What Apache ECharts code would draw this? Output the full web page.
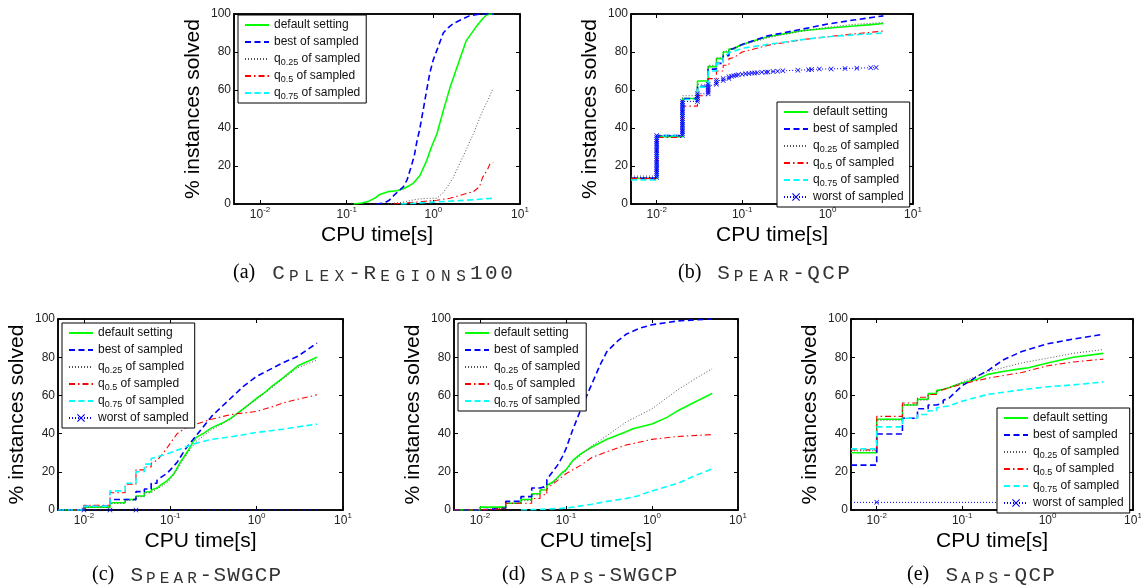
<!DOCTYPE html>
<html><head><meta charset="utf-8">
<script src="https://cdn.jsdelivr.net/npm/echarts@6/dist/echarts.min.js"></script>
<style>html,body{margin:0;padding:0;background:#fff}#c{width:1141px;height:588px}</style>
</head><body><div id="c"></div>
<script>
// ---------------- data ----------------
const seriesNames = ['default setting', 'best of sampled', 'q0.25 of sampled', 'q0.5 of sampled', 'q0.75 of sampled', 'worst of sampled'];
const xTickValues = [0.01, 0.1, 1, 10];
const yTickValues = [0, 20, 40, 60, 80, 100];
const xLabel = 'CPU time[s]';
const yLabel = '% instances solved';
// lower-case letters are set in small capitals
const captionTags = ['(a)', '(b)', '(c)', '(d)', '(e)'];
const captionNames = ['Cplex-Regions100', 'Spear-QCP', 'Spear-SWGCP', 'Saps-SWGCP', 'Saps-QCP'];

// (a) CPLEX-Regions100
const aDefault = [[0.12,0],[0.15,0.5],[0.18,1.5],[0.21,3],[0.24,5],[0.3,6.5],[0.38,7],[0.45,8],[0.52,9.5],[0.59,11],[0.7,15],[0.84,23],[0.95,30],[1.1,37],[1.3,49],[1.55,61],[1.94,74],[2.4,86],[3.2,94],[3.7,97.5],[4.1,99.5],[4.5,100],[5,100]];
const aBest = [[0.22,0],[0.27,0.5],[0.31,2],[0.35,4.5],[0.4,7],[0.45,9],[0.5,13],[0.54,18],[0.6,25],[0.64,32],[0.7,40],[0.76,49],[0.83,59],[0.91,69],[1.0,76],[1.1,81],[1.3,90],[1.5,93],[1.7,95],[2.1,97],[2.6,99],[3.4,100],[5,100]];
const aQ25 = [[0.3,0],[0.45,1],[0.64,2.5],[0.85,3],[1.1,3],[1.3,6],[1.5,10],[1.7,14],[2.2,25],[2.9,37],[3.7,49],[4.3,55],[4.9,61]];
const aQ5 = [[0.35,0],[0.64,1],[1.1,2],[1.55,3],[2.2,5],[2.9,6.5],[3.4,9],[3.7,14],[4.2,18],[4.5,21],[4.9,22]];
const aQ75 = [[0.42,0],[1.0,1],[2.4,2],[4.9,3]];

// (b) SPEAR-QCP
const bDefault = [[0.005,13.5],[0.01,13.5],[0.01,35.4],[0.02,35.4],[0.02,55.5],[0.03,55.5],[0.03,64.7],[0.04,64.7],[0.04,72.3],[0.05,72.3],[0.05,76.5],[0.06,76.5],[0.06,80],[0.07,80],[0.07,81.6],[0.08,81.6],[0.08,82.5],[0.09,83],[0.1,84],[0.15,86.5],[0.2,88],[0.3,89.5],[0.5,91.2],[1,92.5],[2,93.7],[3,94.3],[4.5,95]];
const bBest = [[0.005,13.5],[0.01,13.5],[0.01,36],[0.02,36],[0.02,55.5],[0.03,55.5],[0.03,62],[0.04,62],[0.04,71],[0.05,71],[0.05,74],[0.06,74],[0.06,78],[0.07,78],[0.07,81],[0.08,82],[0.1,84],[0.2,88.5],[0.5,92],[1,94.7],[2,96.8],[4.5,99]];
const bQ25 = [[0.005,14.7],[0.01,14.7],[0.01,36],[0.02,36],[0.02,57],[0.03,57],[0.03,63],[0.04,63],[0.04,73],[0.05,73],[0.05,77],[0.06,77],[0.06,80],[0.07,81],[0.1,83.5],[0.2,87.5],[0.5,91],[1,93],[2,94.5],[4.5,95.5]];
const bQ5 = [[0.005,13.5],[0.01,13.5],[0.01,35],[0.02,35],[0.02,51.5],[0.03,51.5],[0.03,57],[0.04,57],[0.04,66],[0.05,66],[0.05,70],[0.06,70],[0.06,73],[0.07,73],[0.07,76.5],[0.08,77],[0.1,80],[0.2,83.5],[0.5,86.5],[1,88],[2,89.5],[4.5,91]];
const bQ75 = [[0.005,12.6],[0.01,12.6],[0.01,36],[0.02,36],[0.02,55],[0.03,55],[0.03,61.5],[0.04,61.5],[0.04,70],[0.05,70],[0.05,74],[0.06,74],[0.06,77],[0.07,79.5],[0.1,82],[0.2,84],[0.5,86.5],[1,88],[2,89],[4.5,90]];
const bWorst = [[0.005,14],[0.01,14],[0.01,15],[0.01,16],[0.01,17],[0.01,18],[0.01,19],[0.01,20],[0.01,21],[0.01,22],[0.01,23],[0.01,24],[0.01,25],[0.01,26],[0.01,27],[0.01,28],[0.01,29],[0.01,30],[0.01,31],[0.01,32],[0.01,33],[0.01,34],[0.01,35],[0.01,36],[0.02,36],[0.02,37],[0.02,38],[0.02,39],[0.02,40],[0.02,41],[0.02,42],[0.02,43],[0.02,44],[0.02,45],[0.02,46],[0.02,47],[0.02,48],[0.02,49],[0.02,50],[0.02,51],[0.02,52],[0.02,53],[0.02,54],[0.03,54],[0.03,55],[0.03,56],[0.03,57],[0.03,58],[0.04,58],[0.04,59],[0.04,60],[0.04,61],[0.04,62],[0.04,63],[0.05,63],[0.05,64],[0.05,65],[0.06,65],[0.06,66],[0.07,66],[0.07,67],[0.075,67.3],[0.08,67.5],[0.085,67.8],[0.09,68],[0.1,68.3],[0.11,68.5],[0.12,68.7],[0.13,68.9],[0.14,69],[0.15,69.1],[0.17,69.3],[0.19,69.4],[0.2,69.5],[0.23,69.7],[0.26,69.9],[0.3,70.1],[0.45,70.4],[0.6,70.7],[0.65,70.8],[0.8,71],[1.1,71.1],[1.6,71.3],[2.2,71.5],[3.2,71.7],[3.7,71.8]];
const bWorstMarks = 'all';

// (c) SPEAR-SWGCP
const cDefault = [[0.005,0],[0.01,0],[0.01,1.5],[0.02,1.5],[0.02,3.8],[0.03,3.8],[0.03,5.5],[0.04,5.5],[0.04,7.3],[0.05,7.3],[0.05,9.4],[0.06,9.4],[0.06,10.5],[0.07,11.5],[0.08,13.5],[0.09,15],[0.1,17],[0.11,19],[0.12,22],[0.13,25],[0.14,27],[0.16,31],[0.18,35],[0.2,38],[0.25,40.5],[0.3,43],[0.4,45.5],[0.5,48],[0.7,53],[1,58.5],[1.2,61],[1.5,64.7],[2,69],[3,75.5],[4,78],[5,80]];
const cBest = [[0.005,0],[0.01,0],[0.01,2],[0.02,2],[0.02,5.5],[0.04,5.5],[0.04,9.6],[0.05,9.6],[0.05,11],[0.06,11],[0.06,14],[0.07,14],[0.07,15.5],[0.08,17.5],[0.09,19],[0.1,21],[0.12,25],[0.15,32],[0.2,39],[0.3,49],[0.5,58.5],[0.7,64.7],[1,70],[2,77],[3,80.5],[5,87.4]];
const cQ25 = [[0.005,0],[0.01,0],[0.01,1.5],[0.02,1.5],[0.02,3.5],[0.03,3.5],[0.03,5],[0.04,5],[0.04,7],[0.05,7],[0.05,9],[0.06,9],[0.06,10],[0.07,11],[0.08,12.5],[0.09,14],[0.1,16],[0.12,21],[0.14,26],[0.16,30],[0.2,36],[0.3,42],[0.5,47.5],[0.7,53],[1,58],[1.5,64],[2,68.5],[3,74.5],[5,78.5]];
const cQ5 = [[0.005,0],[0.01,0],[0.01,2.5],[0.02,2.5],[0.02,9],[0.03,9],[0.03,13.5],[0.04,13.5],[0.04,21],[0.05,21],[0.05,22.5],[0.06,22.5],[0.06,24.5],[0.07,26],[0.08,29],[0.09,32],[0.1,35],[0.12,40],[0.15,43],[0.2,45],[0.3,47.5],[0.5,50],[1,51.6],[1.5,54],[2,56],[3,58],[5,60.3]];
const cQ75 = [[0.005,0],[0.01,0],[0.01,2],[0.02,2],[0.02,10],[0.03,10],[0.03,14],[0.04,14],[0.04,20],[0.05,20],[0.05,24],[0.06,24],[0.06,27],[0.08,28.5],[0.1,30],[0.15,33],[0.2,35],[0.3,37],[0.5,38.3],[1,40.6],[2,42.3],[5,45]];
const cWorst = [[0.005,0],[0.01,0],[0.02,0],[0.04,0],[5,0]];
const cWorstMarks = [0.01, 0.02, 0.04];

// (d) SAPS-SWGCP
const dDefault = [[0.005,0],[0.01,0],[0.01,1.5],[0.02,1.5],[0.02,3.5],[0.03,3.5],[0.03,5.5],[0.04,5.5],[0.04,8.5],[0.05,8.5],[0.05,10.5],[0.06,10.5],[0.06,13],[0.07,14.5],[0.08,17],[0.09,19.5],[0.1,21],[0.12,26],[0.15,29.5],[0.2,33],[0.3,37],[0.5,41],[0.6,42.5],[1,45],[1.5,48.5],[2,52],[3,56],[5,61]];
const dBest = [[0.005,0],[0.01,0],[0.01,1],[0.02,1],[0.02,4.5],[0.03,4.5],[0.03,7],[0.04,7],[0.04,11.5],[0.05,11.5],[0.05,12.5],[0.06,12.5],[0.06,16],[0.07,20],[0.08,23.5],[0.09,27.5],[0.1,32],[0.12,42],[0.15,53],[0.2,66],[0.25,76],[0.3,83],[0.4,88.5],[0.5,92],[0.7,95],[1,97],[2,99],[5,100]];
const dQ25 = [[0.005,0],[0.01,0],[0.01,1],[0.02,1],[0.02,3.5],[0.03,3.5],[0.03,5],[0.04,5],[0.04,8],[0.05,8],[0.05,10],[0.06,12.5],[0.07,14],[0.08,16.5],[0.1,20.5],[0.12,25],[0.15,29],[0.2,33.5],[0.3,39],[0.5,46],[1,53],[2,63],[3,68],[5,74]];
const dQ5 = [[0.005,0],[0.01,0],[0.01,0.7],[0.02,0.7],[0.02,3.5],[0.04,3.5],[0.04,6],[0.05,6],[0.05,8],[0.06,8],[0.06,11],[0.07,13.5],[0.08,15.5],[0.1,19],[0.15,23.5],[0.2,27.5],[0.3,30.5],[0.5,34],[1,37],[2,38.5],[5,39.5]];
const dQ75 = [[0.03,0],[0.06,0.5],[0.1,1],[0.2,3],[0.3,4.5],[0.5,6],[0.7,7.5],[1,10],[2,14],[3,17.5],[5,21.5]];

// (e) SAPS-QCP
const eDefault = [[0.005,30],[0.01,30],[0.01,47.5],[0.02,47.5],[0.02,55],[0.03,55],[0.03,58],[0.04,58],[0.04,61],[0.05,61],[0.05,62.5],[0.06,63.2],[0.07,64],[0.08,65],[0.1,66.5],[0.15,68.5],[0.2,71],[0.3,72.5],[0.5,74],[0.6,74.5],[1,77],[2,80],[4.5,82]];
const eBest = [[0.005,23.5],[0.01,23.5],[0.01,39.8],[0.02,39.8],[0.02,48],[0.03,48],[0.03,53],[0.04,53],[0.04,55],[0.05,55],[0.05,56],[0.06,56],[0.06,57.5],[0.07,58.5],[0.08,61],[0.1,65],[0.15,70],[0.2,73],[0.3,78.5],[0.5,83],[1,87],[2,89.5],[4.5,92]];
const eQ25 = [[0.005,31],[0.01,31],[0.01,47],[0.02,47],[0.02,55],[0.03,55],[0.03,57.5],[0.04,57.5],[0.04,60.5],[0.05,60.5],[0.05,62],[0.07,64],[0.1,67],[0.2,72.5],[0.5,77],[1,79.5],[2,82],[4.5,84]];
const eQ5 = [[0.005,31.5],[0.01,31.5],[0.01,49],[0.02,49],[0.02,56],[0.03,56],[0.03,59],[0.04,59],[0.04,60.5],[0.05,60.5],[0.05,62],[0.06,63],[0.1,66],[0.2,69],[0.5,72],[1,75.5],[2,77.5],[4.5,79]];
const eQ75 = [[0.005,32],[0.01,32],[0.01,43.5],[0.02,43.5],[0.02,48],[0.03,48],[0.03,50],[0.04,50],[0.04,52],[0.05,52],[0.05,53.5],[0.07,54.5],[0.1,57],[0.2,60.5],[0.5,63],[1,64.5],[2,65.5],[4.5,67]];
const eWorst = [[0.005,4],[0.01,4],[4.5,4]];
const eWorstMarks = [0.01];

// ---------------- layout / style ----------------
const FONT = 'Liberation Sans, Arial, Helvetica, sans-serif';
const MONO = 'Liberation Mono, Courier New, monospace';
const xMarkPath = 'path://M0,1L1,0L5,4L9,0L10,1L6,5L10,9L9,10L5,6L1,10L0,9L4,5Z';
const styles = [
  {color:'#00ff00', type:'solid', width:1.6},
  {color:'#0000ff', type:[6,3.5], width:1.6},
  {color:'#555555', type:[1,2], width:1},
  {color:'#ff0000', type:[6,3,1.5,3], width:1.1},
  {color:'#00ffff', type:[6,3.5], width:1.6},
  {color:'#0000ff', type:[1,2], width:1}
];
const BIG = 21, SMALL = 16;
const panels = [
  {curves:[aDefault,aBest,aQ25,aQ5,aQ75], grid:{left:234,top:14,width:286,height:190}, legend:{left:238,top:15}, cap:{left:233,top:261,cell:15.2}},
  {curves:[bDefault,bBest,bQ25,bQ5,bQ75,bWorst], marks:bWorstMarks, grid:{left:631,top:14,width:282,height:190}, legend:{left:777,top:102}, cap:{left:678,top:261,cell:15.0}},
  {curves:[cDefault,cBest,cQ25,cQ5,cQ75,cWorst], marks:cWorstMarks, grid:{left:58,top:319,width:285,height:191}, legend:{left:62,top:323}, cap:{left:92,top:563,cell:13.8}},
  {curves:[dDefault,dBest,dQ25,dQ5,dQ75], grid:{left:454,top:319,width:284,height:191}, legend:{left:458,top:323}, cap:{left:502,top:563,cell:13.8}},
  {curves:[eDefault,eBest,eQ25,eQ5,eQ75,eWorst], marks:eWorstMarks, grid:{left:851,top:319,width:282,height:191}, legend:{left:997,top:408}, cap:{left:907,top:563,cell:13.8}}
];

function isDecade(v){ const l = Math.log10(v); return Math.abs(l - Math.round(l)) < 1e-6; }
function captionRich(tag, name){
  let s = '{p|' + tag + '}';
  for (const ch of name) {
    const small = ch !== ch.toUpperCase();
    s += '{' + (small ? 's' : 'c') + '|' + ch.toUpperCase() + '}';
  }
  return s;
}
function capToken(fs, cell, va){
  const pad = (cell - 0.6 * fs) / 2;
  const t = {fontFamily:MONO, fontSize:fs, fontWeight:'normal', color:'#333', width:cell - pad, padding:[0,0,0,pad], lineHeight:24};
  if (va) t.verticalAlign = va;
  return t;
}

const grids = [], xAxes = [], yAxes = [], legends = [], titles = [], series = [];
panels.forEach((p, i) => {
  grids.push(Object.assign({show:true, borderColor:'#000', borderWidth:1.5, backgroundColor:'#fff', outerBoundsMode:'none', containLabel:false}, p.grid));
  xAxes.push({type:'log', logBase:10, min:0.005, max:10, gridIndex:i, position:'bottom',
    axisLine:{show:true, onZero:false, lineStyle:{color:'#000', width:1.5}},
    axisTick:{show:true, inside:true, length:4, lineStyle:{color:'#000'}},
    minorTick:{show:false}, splitLine:{show:false},
    name:xLabel, nameLocation:'middle', nameGap:12,
    nameTextStyle:{fontFamily:FONT, fontSize:21, color:'#000'},
    axisLabel:{show:true, margin:2, showMinLabel:false, color:'#222', fontFamily:FONT, fontSize:12, lineHeight:18,
      formatter:v => isDecade(v) ? '10{sup|' + Math.round(Math.log10(v)) + '}' : '',
      rich:{sup:{fontSize:8, lineHeight:8, verticalAlign:'top', fontFamily:FONT, color:'#222'}}}});
  yAxes.push({type:'value', min:0, max:100, interval:20, gridIndex:i, position:'left',
    axisLine:{show:true, onZero:false, lineStyle:{color:'#000', width:1.5}},
    axisTick:{show:true, inside:true, length:4, lineStyle:{color:'#000'}},
    splitLine:{show:false},
    name:yLabel, nameLocation:'middle', nameGap:30,
    nameTextStyle:{fontFamily:FONT, fontSize:21, color:'#000'},
    axisLabel:{margin:3, color:'#222', fontFamily:FONT, fontSize:12,
      formatter:v => yTickValues.includes(v) ? String(v) : ''}});
  const names = seriesNames.slice(0, p.curves.length);
  legends.push({left:p.legend.left, top:p.legend.top, orient:'vertical',
    data:names.map((n, k) => k === 5 ? {name:n} : {name:n, itemStyle:{opacity:0}}),
    backgroundColor:'#fff', borderColor:'#000', borderWidth:1, padding:[2,6,2,6],
    itemGap:1, itemWidth:24, itemHeight:10, selectedMode:false,
    textStyle:{fontFamily:FONT, fontSize:12, color:'#111', lineHeight:16,
      rich:{sub:{fontSize:9, lineHeight:10, verticalAlign:'bottom', fontFamily:FONT, color:'#111'}}},
    formatter:n => n.replace(/^q([\d.]+)/, 'q{sub|$1}')});
  titles.push({text:captionRich(captionTags[i], captionNames[i]), left:p.cap.left, top:p.cap.top, padding:0,
    textStyle:{fontWeight:'normal', lineHeight:24, rich:{
      p:{fontFamily:'Liberation Serif, Times New Roman, serif', fontSize:20, fontWeight:'normal', color:'#000', width:38, lineHeight:24},
      c:capToken(BIG, p.cap.cell),
      s:capToken(SMALL, p.cap.cell, 'bottom')}}});
  p.curves.forEach((d, k) => {
    const st = styles[k];
    const isWorst = k === 5;
    let data = d;
    if (isWorst) {
      data = d.map((pt, j) => {
        const marked = p.marks === 'all' ? j > 0 : p.marks.includes(pt[0]);
        return marked ? {value:pt} : {value:pt, symbol:'none'};
      });
    }
    series.push({type:'line', name:seriesNames[k], xAxisIndex:i, yAxisIndex:i, data:data,
      showSymbol:isWorst, symbol:isWorst ? xMarkPath : 'none', symbolSize:5,
      lineStyle:{color:st.color, type:st.type, width:st.width},
      itemStyle:{color:st.color}, color:st.color,
      smooth:false, animation:false, silent:true, clip:true, z:2 + k * 0.01});
  });
});
// mirror axes (top / right) for the boxed look
panels.forEach((p, i) => {
  xAxes.push({type:'log', logBase:10, min:0.005, max:10, gridIndex:i, position:'top',
    axisLine:{show:true, onZero:false, lineStyle:{color:'#000', width:1.5}},
    axisTick:{show:true, inside:true, length:4, lineStyle:{color:'#000'}},
    axisLabel:{show:false}, splitLine:{show:false}});
  yAxes.push({type:'value', min:0, max:100, interval:20, gridIndex:i, position:'right',
    axisLine:{show:true, onZero:false, lineStyle:{color:'#000', width:1.5}},
    axisTick:{show:true, inside:true, length:4, lineStyle:{color:'#000'}},
    axisLabel:{show:false}, splitLine:{show:false}});
});

const chart = echarts.init(document.getElementById('c'), null, {renderer:'canvas'});
chart.setOption({
  animation:false, backgroundColor:'#fff',
  grid:grids, xAxis:xAxes, yAxis:yAxes, legend:legends, title:titles, series:series
});
</script></body></html>
